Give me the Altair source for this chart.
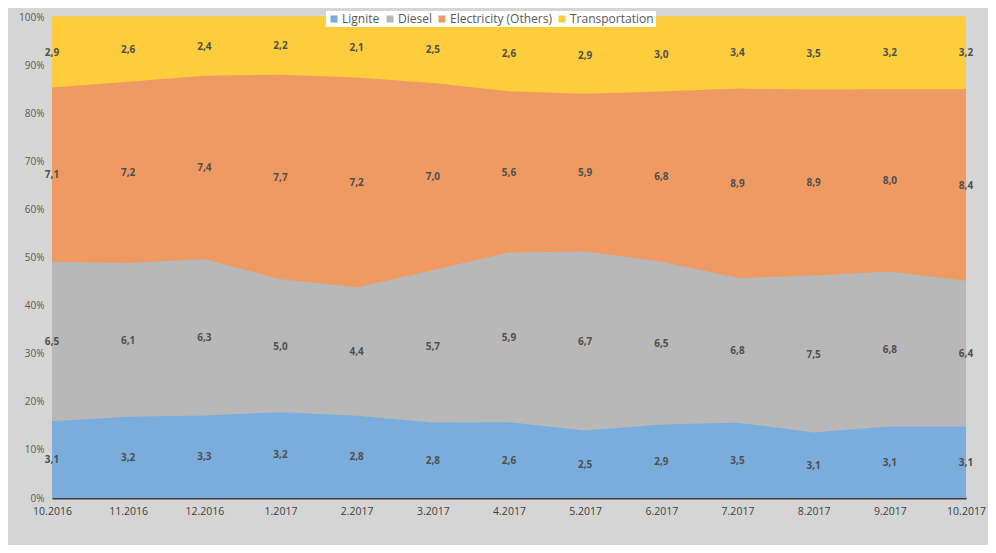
import altair as alt
import pandas as pd

months = ["10.2016", "11.2016", "12.2016", "1.2017", "2.2017", "3.2017", "4.2017",
          "5.2017", "6.2017", "7.2017", "8.2017", "9.2017", "10.2017"]
series = ["Lignite", "Diesel", "Electricity (Others)", "Transportation"]
lignite = [3.1, 3.2, 3.3, 3.2, 2.8, 2.8, 2.6, 2.5, 2.9, 3.5, 3.1, 3.1, 3.1]
diesel = [6.5, 6.1, 6.3, 5.0, 4.4, 5.7, 5.9, 6.7, 6.5, 6.8, 7.5, 6.8, 6.4]
electricity = [7.1, 7.2, 7.4, 7.7, 7.2, 7.0, 5.6, 5.9, 6.8, 8.9, 8.9, 8.0, 8.4]
transportation = [2.9, 2.6, 2.4, 2.2, 2.1, 2.5, 2.6, 2.9, 3.0, 3.4, 3.5, 3.2, 3.2]
colors = ["#7aaddb", "#b8b8b8", "#ef9a62", "#fdcd3e"]

rows = []
for si, (name, vals) in enumerate(zip(series, [lignite, diesel, electricity, transportation])):
    for m, v in zip(months, vals):
        rows.append({"month": m, "series": name, "value": v, "idx": si})
df = pd.DataFrame(rows)

FONT = "Open Sans"

x_enc = alt.X("month:N", sort=months, scale=alt.Scale(padding=0),
              axis=alt.Axis(title=None, labelAngle=0, labelColor="#404040", labelFontSize=10.5,
                            labelFont=FONT, domainColor="#3a3a3a", domainWidth=2, ticks=False,
                            labelPadding=8, grid=False))

base = alt.Chart(df)

areas = base.mark_area(line=alt.OverlayMarkDef(color="#f2f2f2", strokeWidth=1.5), opacity=1).encode(
    x=x_enc,
    y=alt.Y("value:Q", stack="normalize",
            scale=alt.Scale(domain=[0, 1]),
            axis=alt.Axis(title=None, format="%", values=[i / 10 for i in range(11)],
                          labelColor="#595959", labelFontSize=10, labelFont=FONT,
                          domain=False, ticks=False, gridColor="#000000", gridOpacity=0.05,
                          labelPadding=8)),
    color=alt.Color("series:N", sort=series,
                    scale=alt.Scale(domain=series, range=colors),
                    legend=alt.Legend(title=None, orient="none", direction="horizontal",
                                      legendX=274, legendY=-6, fillColor="white",
                                      symbolType="square", symbolSize=50, symbolStrokeWidth=0,
                                      labelFontSize=12, labelFont=FONT, labelColor="#595959",
                                      columnPadding=4, symbolOffset=0, padding=2, labelOffset=2)),
    order=alt.Order("idx:Q"),
)

labels = base.transform_stack(
    stack="value", as_=["y0", "y1"], groupby=["month"],
    sort=[alt.SortField("idx", order="ascending")], offset="normalize"
).transform_calculate(
    mid="(datum.y0 + datum.y1) / 2",
    lab="replace(format(datum.value, '.1f'), '.', ',')"
).mark_text(fontSize=10, fontWeight="bold", color="#505050", font=FONT).encode(
    x=alt.X("month:N", sort=months),
    y=alt.Y("mid:Q"),
    text="lab:N",
)

chart = alt.layer(areas, labels).properties(
    width=914, height=481,
    background="#d5d5d5",
    padding={"left": 44, "top": 9, "right": 22, "bottom": 47},
    autosize=alt.AutoSizeParams(type="none"),
).configure_view(stroke=None)

chart.save("out.html", embed_options={"renderer": "svg", "actions": False})
